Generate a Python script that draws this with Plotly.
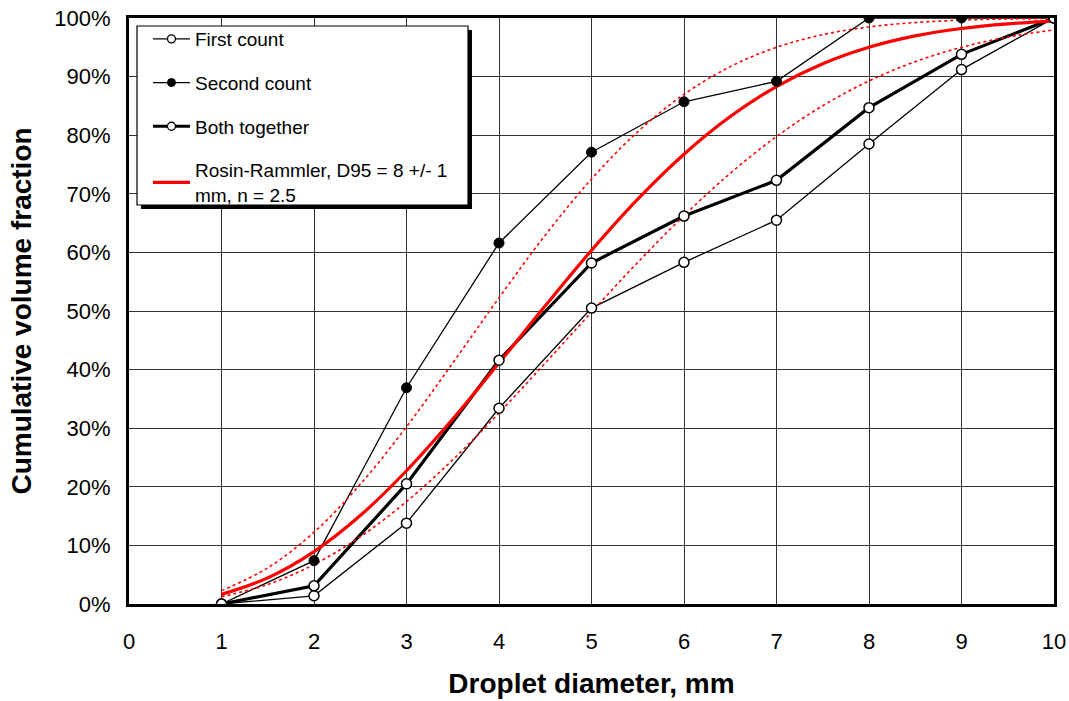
import plotly.graph_objects as go

# ---- data ----
diam = [1, 2, 3, 4, 5, 6, 7, 8, 9, 10]
first_count = [0.0, 0.014, 0.138, 0.334, 0.505, 0.583, 0.655, 0.785, 0.912, 1.0]
second_count = [0.0, 0.074, 0.369, 0.616, 0.771, 0.857, 0.892, 1.0, 1.0, 1.0]
both_together = [0.0, 0.031, 0.205, 0.416, 0.582, 0.662, 0.723, 0.847, 0.938, 1.0]

rr_d = [1, 1.5, 2, 2.5, 3, 3.5, 4, 4.5, 5, 5.5, 6, 6.5, 7, 7.5, 8, 8.5, 9, 9.5, 10]
rr_mid = [0.0164, 0.0446, 0.0894, 0.1509, 0.2274, 0.3156, 0.4112, 0.5088, 0.6035,
          0.6909, 0.7676, 0.8318, 0.8830, 0.9219, 0.9500, 0.9694, 0.9821, 0.9900, 0.9947]
rr_upper = [0.0228, 0.0617, 0.1225, 0.2042, 0.3025, 0.4112, 0.5226, 0.6294, 0.7252,
            0.8059, 0.8697, 0.9170, 0.9500, 0.9716, 0.9847, 0.9923, 0.9964, 0.9984, 0.9993]
rr_lower = [0.0123, 0.0334, 0.0674, 0.1147, 0.1748, 0.2461, 0.3260, 0.4112, 0.4980,
            0.5830, 0.6628, 0.7350, 0.7978, 0.8503, 0.8926, 0.9255, 0.9500, 0.9676, 0.9797]

x_ticks = [0, 1, 2, 3, 4, 5, 6, 7, 8, 9, 10]
y_ticks = [0, 0.1, 0.2, 0.3, 0.4, 0.5, 0.6, 0.7, 0.8, 0.9, 1.0]
y_tick_labels = ["0%", "10%", "20%", "30%", "40%", "50%", "60%", "70%", "80%", "90%", "100%"]

FONT = "Arial, Liberation Sans, sans-serif"

fig = go.Figure()

legend_open = dict(symbol="circle", size=8, color="white", line=dict(color="black", width=1.3))
legend_filled = dict(symbol="circle", size=8, color="black", line=dict(color="black", width=1))
open_marker = dict(symbol="circle", size=10, color="white", line=dict(color="black", width=1.5))
filled_marker = dict(symbol="circle", size=10, color="black", line=dict(color="black", width=1))

# legend-bearing traces (lines + small markers)
fig.add_trace(go.Scatter(x=diam, y=first_count, mode="lines+markers", name="First count",
                         line=dict(color="black", width=1.3), marker=legend_open,
                         legendgroup="a", legendrank=1))
fig.add_trace(go.Scatter(x=diam, y=second_count, mode="lines+markers", name="Second count",
                         line=dict(color="black", width=1.3), marker=legend_filled,
                         legendgroup="b", legendrank=2))
fig.add_trace(go.Scatter(x=diam, y=both_together, mode="lines+markers", name="Both together",
                         line=dict(color="black", width=3.2), marker=legend_open,
                         legendgroup="c", legendrank=3))

# Rosin-Rammler curves
fig.add_trace(go.Scatter(x=rr_d, y=rr_upper, mode="lines", showlegend=False,
                         line=dict(color="red", width=1.6, dash="dot", shape="spline")))
fig.add_trace(go.Scatter(x=rr_d, y=rr_lower, mode="lines", showlegend=False,
                         line=dict(color="red", width=1.6, dash="dot", shape="spline")))
fig.add_trace(go.Scatter(x=rr_d, y=rr_mid, mode="lines",
                         name="Rosin-Rammler, D95 = 8 +/- 1<br>mm, n = 2.5",
                         line=dict(color="red", width=3.2, shape="spline"),
                         legendgroup="d", legendrank=4))

# markers on top of the red curve
fig.add_trace(go.Scatter(x=diam, y=first_count, mode="markers", showlegend=False, marker=open_marker))
fig.add_trace(go.Scatter(x=diam, y=second_count, mode="markers", showlegend=False, marker=filled_marker))
fig.add_trace(go.Scatter(x=diam, y=both_together, mode="markers", showlegend=False, marker=open_marker))

# legend box with drop shadow
fig.add_shape(type="rect", xref="paper", yref="paper",
              x0=0.0130, x1=0.3708, y0=0.6741, y1=0.9795,
              fillcolor="black", line=dict(width=0), layer="above")
fig.add_shape(type="rect", xref="paper", yref="paper",
              x0=0.00865, x1=0.3665, y0=0.6809, y1=0.98635,
              fillcolor="white", line=dict(color="black", width=1.2), layer="above")

fig.update_layout(
    width=1069, height=701,
    margin=dict(l=129, r=15, t=18, b=97),
    paper_bgcolor="white", plot_bgcolor="white",
    font=dict(family=FONT, color="black", size=22),
    legend=dict(x=0.0205, y=0.9966, xanchor="left", yanchor="top",
                bgcolor="rgba(0,0,0,0)", borderwidth=0,
                font=dict(family=FONT, size=19, color="black"),
                tracegroupgap=16, itemwidth=37),
    showlegend=True,
)

fig.update_xaxes(range=[0, 10], tickvals=x_ticks, ticktext=[str(v) for v in x_ticks],
                 showgrid=True, gridcolor="#333333", gridwidth=1,
                 showline=True, linecolor="black", linewidth=3, mirror=True,
                 zeroline=False, ticks="", ticklabelstandoff=16, automargin=False,
                 tickfont=dict(family=FONT, size=22),
                 title=dict(text="<b>Droplet diameter, mm</b>", font=dict(family=FONT, size=28), standoff=20))
fig.update_yaxes(range=[0, 1], tickvals=y_ticks, ticktext=y_tick_labels,
                 showgrid=True, gridcolor="#333333", gridwidth=1,
                 showline=True, linecolor="black", linewidth=3, mirror=True,
                 zeroline=False, ticks="", ticklabelstandoff=11, automargin=False,
                 tickfont=dict(family=FONT, size=22),
                 title=dict(text="<b>Cumulative volume fraction</b>", font=dict(family=FONT, size=28), standoff=15))

fig.write_html("out.html")
